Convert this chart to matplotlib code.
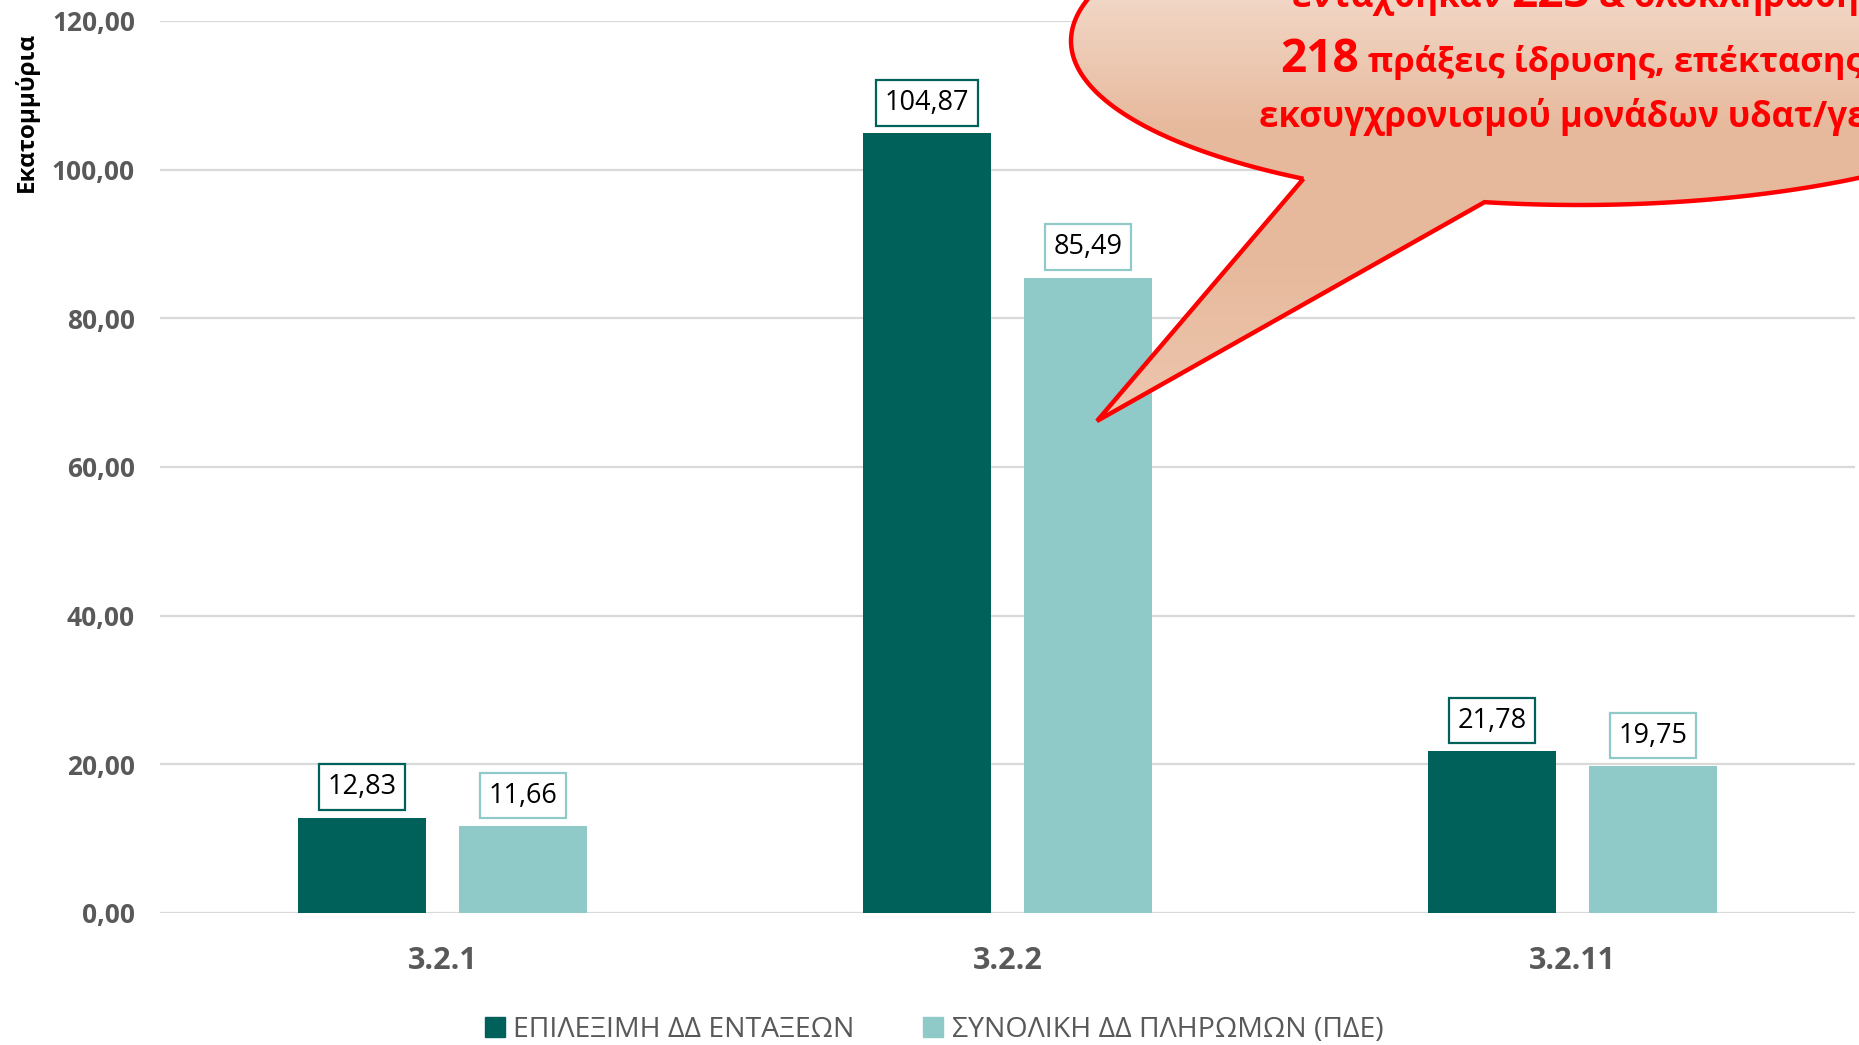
import numpy as np
import matplotlib
matplotlib.use("Agg")
import matplotlib.pyplot as plt
from matplotlib.patches import Patch, PathPatch
from matplotlib.path import Path
from matplotlib.colors import to_rgba

plt.rcParams['font.family'] = ['Open Sans', 'DejaVu Sans']

categories = ['3.2.1', '3.2.2', '3.2.11']
entaxeis = [12.83, 104.87, 21.78]
pliromes = [11.66, 85.49, 19.75]
series_names = ['ΕΠΙΛΕΞΙΜΗ ΔΔ ΕΝΤΑΞΕΩΝ', 'ΣΥΝΟΛΙΚΗ ΔΔ ΠΛΗΡΩΜΩΝ (ΠΔΕ)']
yticks = [0, 20, 40, 60, 80, 100, 120]
ytick_labels = ['0,00', '20,00', '40,00', '60,00', '80,00', '100,00', '120,00']
ylabel = 'Εκατομμύρια'
callout_lines = ['εντάχθηκαν ', '223', ' & ολοκληρώθηκαν']
callout_line2 = ['218', ' πράξεις ίδρυσης, επέκτασης']
callout_line3 = 'εκσυγχρονισμού μονάδων υδατ/γειών'

DARK = '#00605A'
LIGHT = '#8FC9C8'
GRAY = '#595959'
GRID = '#D9D9D9'

W, H = 1859, 1045
fig = plt.figure(figsize=(W / 100, H / 100), dpi=100)
ax = fig.add_axes([160 / W, 1 - 913 / H, (1855 - 160) / W, (913 - 21) / H])

x = np.arange(len(categories))
bw = 0.225
off = 0.1425
b1 = ax.bar(x - off, entaxeis, bw, color=DARK, zorder=3)
b2 = ax.bar(x + off, pliromes, bw, color=LIGHT, zorder=3)

ax.set_xlim(-0.5, len(categories) - 0.5)
ax.set_ylim(0, 120)
ax.set_yticks(yticks)
ax.set_yticklabels(ytick_labels)
ax.set_xticks(x)
ax.set_xticklabels(categories)
for s in ax.spines.values():
    s.set_visible(False)
ax.yaxis.grid(True, color=GRID, lw=1.6, zorder=0)
ax.set_axisbelow(True)
ax.tick_params(axis='both', length=0)
ax.tick_params(axis='y', pad=18, labelsize=19, labelcolor=GRAY)
ax.tick_params(axis='x', pad=24, labelsize=22, labelcolor=GRAY)
for lab in ax.get_yticklabels() + ax.get_xticklabels():
    lab.set_fontweight('bold')

for bars, vals, col in ((b1, entaxeis, DARK), (b2, pliromes, LIGHT)):
    for r, v in zip(bars, vals):
        ax.annotate(f"{v:.2f}".replace('.', ','),
                    (r.get_x() + r.get_width() / 2, v),
                    xytext=(0, 22), textcoords='offset points',
                    ha='center', va='center', fontsize=19.5, color='black', zorder=5,
                    bbox=dict(boxstyle='square,pad=0.32', fc='white', ec=col, lw=1.6))

fig.text(26 / W, 1 - 112 / H, ylabel, rotation=90, ha='center', va='center',
         fontsize=17.5, fontweight='bold', color='black')

handles = [Patch(color=DARK), Patch(color=LIGHT)]
fig.legend(handles, series_names, loc='center', bbox_to_anchor=(934 / W, 1 - 1030 / H),
           ncol=2, frameon=False, fontsize=20.5, handlelength=0.7, handleheight=0.7,
           handletextpad=0.3, columnspacing=2.4, labelcolor=GRAY)

# callout overlay
ov = fig.add_axes([0, 0, 1, 1], zorder=10)
ov.set_xlim(0, W)
ov.set_ylim(H, 0)
ov.axis('off')

cx, cy, a, b = 1579, 41, 508, 164
t1 = np.degrees(np.arctan2((179 - cy) / b, (1303 - cx) / a))
t2 = np.degrees(np.arctan2((203 - cy) / b, (1484 - cx) / a))
ts = np.radians(np.linspace(t1, t2 + 360, 400))
pts = [(cx + a * np.cos(t), cy + b * np.sin(t)) for t in ts]
pts.append((1097, 421))
pts.append(pts[0])
codes = [Path.MOVETO] + [Path.LINETO] * (len(pts) - 2) + [Path.CLOSEPOLY]
path = Path(pts, codes)
patch = PathPatch(path, fc='none', ec='#FF0000', lw=3.2, zorder=3)
ov.add_patch(patch)

stops_y = [-130, 0, 130, 260, 421]
stops_c = ['#F6E3D8', '#F1D6C5', '#E7B99C', '#E7B99C', '#EDC7AF']
ys = np.linspace(-130, 421, 500)
rgb = np.array([to_rgba(c) for c in stops_c])
grad = np.stack([np.interp(ys, stops_y, rgb[:, i]) for i in range(4)], axis=-1)[:, None, :]
im = ov.imshow(grad, extent=(1000, 1900, 421, -130), origin='upper', aspect='auto', zorder=2)
clip = PathPatch(path, transform=ov.transData, fc='none', ec='none')
ov.add_patch(clip)
im.set_clip_path(clip)
ov.set_xlim(0, W)
ov.set_ylim(H, 0)

RED = '#FF0000'
renderer = fig.canvas.get_renderer()


def seq(parts, sizes, x0, yb):
    xx = x0
    for p, s in zip(parts, sizes):
        t = ov.text(xx, yb, p, fontsize=s, fontweight='bold', color=RED,
                    ha='left', va='baseline', zorder=4)
        bb = t.get_window_extent(renderer=renderer)
        xx += bb.width


seq(callout_lines, [25, 33, 25], 1292, 7)
seq(callout_line2, [33, 24.8], 1280, 72)
seq([callout_line3], [25], 1259, 127)

fig.savefig('out.png', dpi=100)
